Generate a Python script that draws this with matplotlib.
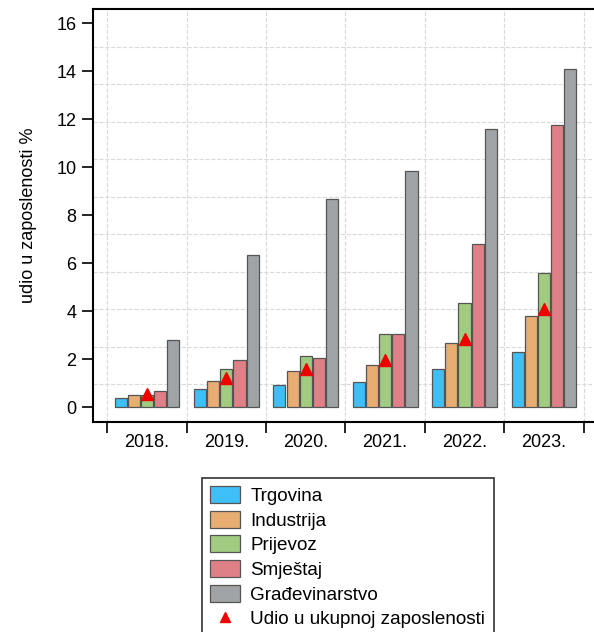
import numpy as np
import matplotlib
matplotlib.use('Agg')
import matplotlib.pyplot as plt

plt.rcParams['font.family'] = ['Liberation Sans', 'DejaVu Sans']

years = ['2018.', '2019.', '2020.', '2021.', '2022.', '2023.']
sectors = ['Trgovina', 'Industrija', 'Prijevoz', 'Smještaj', 'Građevinarstvo']
trgovina = [0.37, 0.76, 0.92, 1.05, 1.58, 2.28]
industrija = [0.51, 1.10, 1.50, 1.75, 2.69, 3.78]
prijevoz = [0.51, 1.58, 2.15, 3.03, 4.35, 5.58]
smjestaj = [0.68, 1.97, 2.05, 3.03, 6.79, 11.76]
gradjevinarstvo = [2.80, 6.33, 8.68, 9.83, 11.61, 14.11]
ukupno = [0.56, 1.20, 1.60, 1.97, 2.86, 4.08]
colors = ['#3fbff8', '#e8ad72', '#a2cb82', '#df8087', '#a1a4a6']

series = [trgovina, industrija, prijevoz, smjestaj, gradjevinarstvo]

fig = plt.figure(figsize=(5.94, 6.32), dpi=100)
ax = fig.add_axes([0.157, 0.333, 0.849, 0.652])

x = np.arange(len(years))
step = 0.166
width = 0.152
for i, (vals, name, c) in enumerate(zip(series, sectors, colors)):
    ax.bar(x + (i - 2) * step, vals, width, color=c, edgecolor='#555555',
           linewidth=0.9, label=name, zorder=3)
ax.plot(x, ukupno, linestyle='none', marker='^', markersize=9, color='#ee0000',
        label='Udio u ukupnoj zaposlenosti', zorder=4)

ax.set_xlim(-0.676, 5.676)
ax.set_ylim(-0.6, 16.58)
ax.set_yticks(range(0, 17, 2))
ax.set_xticks(np.arange(-0.5, 6, 1))
ax.set_xticklabels([])
ax.set_xticks(x, minor=True)
ax.set_xticklabels(years, minor=True)
ax.tick_params(axis='x', which='minor', length=0, pad=9, labelsize=13)
ax.tick_params(axis='x', which='major', length=8, width=1.2)
ax.tick_params(axis='y', length=8, width=1.2, labelsize=13, pad=4)

# dashed grid: verticals at group borders, 10 horizontals evenly over the axes
for b in np.arange(-0.5, 6, 1):
    ax.axvline(b, color='#d9d9d9', linestyle='--', linewidth=0.8, zorder=0)
y0, y1 = ax.get_ylim()
for g in np.linspace(y0, y1, 12)[1:-1]:
    ax.axhline(g, color='#d9d9d9', linestyle='--', linewidth=0.8, zorder=0)

for s in ax.spines.values():
    s.set_linewidth(1.5)

ax.set_ylabel('udio u zaposlenosti %', fontsize=13, labelpad=14)

handles, labels = ax.get_legend_handles_labels()
handles = handles[1:] + handles[:1]
labels = labels[1:] + labels[:1]
leg = fig.legend(handles, labels, loc='upper left', bbox_to_anchor=(0.34, 0.244),
                 borderaxespad=0, fontsize=13.6, frameon=True, fancybox=False,
                 edgecolor='black', handlelength=1.55, handleheight=1.0,
                 labelspacing=0.3, borderpad=0.45, handletextpad=0.55,
                 markerscale=0.75)
leg.get_frame().set_linewidth(1.2)

fig.savefig('out.png', dpi=100)
